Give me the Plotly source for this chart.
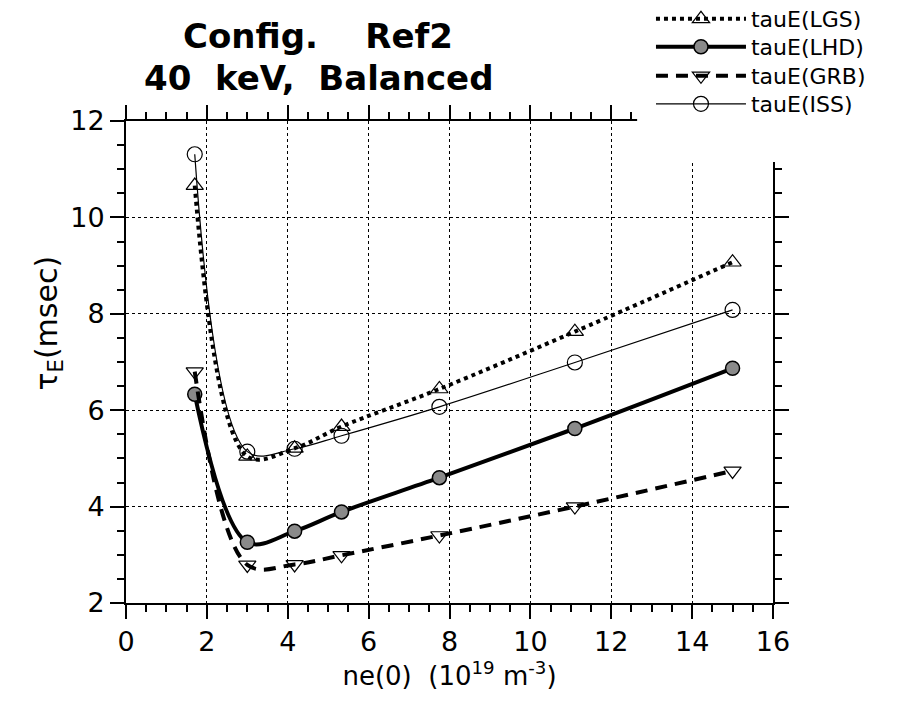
import plotly.graph_objects as go

density = [1.7, 3.0, 4.17, 5.33, 7.75, 11.1, 15.0]
tau_lgs = [10.66, 5.04, 5.21, 5.66, 6.44, 7.63, 9.07]
tau_lhd = [6.33, 3.26, 3.49, 3.89, 4.60, 5.62, 6.87]
tau_grb = [6.80, 2.79, 2.80, 2.99, 3.40, 4.00, 4.74]
tau_iss = [11.31, 5.14, 5.20, 5.47, 6.07, 6.99, 8.08]
series_names = ["tauE(LGS)", "tauE(LHD)", "tauE(GRB)", "tauE(ISS)"]

FONT = "DejaVu Sans"
NB = "\u00a0"

fig = go.Figure()
fig.add_trace(go.Scatter(
    x=density, y=tau_lgs, name=series_names[0], mode="lines+markers", legend="legend",
    line=dict(color="black", width=4, dash="dot", shape="spline", smoothing=1.0),
    marker=dict(symbol="triangle-up-open", size=15, color="black", line=dict(width=1.2)),
))
fig.add_trace(go.Scatter(
    x=density, y=tau_lhd, name=series_names[1], mode="lines+markers", legend="legend2",
    line=dict(color="black", width=4, shape="spline", smoothing=1.0),
    marker=dict(symbol="circle", size=14, color="#8a8a8a", line=dict(color="black", width=1.5)),
))
fig.add_trace(go.Scatter(
    x=density, y=tau_grb, name=series_names[2], mode="lines+markers", legend="legend3",
    line=dict(color="black", width=4, dash="12px,8px", shape="spline", smoothing=1.0),
    marker=dict(symbol="triangle-down-open", size=15, color="black", line=dict(width=1.2)),
))
fig.add_trace(go.Scatter(
    x=density, y=tau_iss, name=series_names[3], mode="lines+markers", legend="legend4",
    line=dict(color="black", width=1.2, shape="spline", smoothing=1.0),
    marker=dict(symbol="circle-open", size=15, color="black", line=dict(width=1.2)),
))

axis_common = dict(
    showline=True, linecolor="black", linewidth=2, mirror="allticks",
    ticks="outside", ticklen=14, tickwidth=1.5, tickcolor="black",
    showgrid=True, gridcolor="black", gridwidth=1, griddash="dot",
    zeroline=False, automargin=False,
    tickfont=dict(family=FONT, size=27, color="black"),
)

fig.update_xaxes(
    range=[0, 16], dtick=2, tick0=0,
    minor=dict(dtick=0.5, ticks="outside", ticklen=7, tickcolor="black", showgrid=False),
    title=dict(text=f"ne(0){NB}{NB}(10<sup>19</sup> m<sup>-3</sup>)",
               font=dict(family=FONT, size=26, color="black"), standoff=10),
    **axis_common,
)
fig.update_yaxes(
    range=[2, 12], dtick=2, tick0=2,
    minor=dict(dtick=0.5, ticks="outside", ticklen=7, tickcolor="black", showgrid=False),
    **axis_common,
)

# y-axis title (placed above the vertical centre, as in the reference)
fig.add_annotation(
    text="τ<sub>E</sub>(msec)", xref="paper", yref="paper",
    x=0.0, xshift=-78, y=0.58, textangle=-90, showarrow=False,
    xanchor="center", yanchor="middle",
    font=dict(family=FONT, size=30, color="black"),
)

fig.add_annotation(
    text=f"<b>Config.{NB*4}Ref2</b>", xref="paper", yref="paper",
    x=0.297, y=1.0, yshift=85, showarrow=False, xanchor="center", yanchor="middle",
    font=dict(family=FONT, size=34, color="black"),
)
fig.add_annotation(
    text=f"<b>40{NB*2}keV,{NB*2}Balanced</b>", xref="paper", yref="paper",
    x=0.297, y=1.0, yshift=43, showarrow=False, xanchor="center", yanchor="middle",
    font=dict(family=FONT, size=34, color="black"),
)

# white area behind the legend, hiding the top-right corner of the frame
fig.add_shape(type="rect", xref="paper", yref="paper", layer="above",
              x0=0.79, x1=1.25, y0=0.915, y1=1.3,
              fillcolor="white", line=dict(width=0))

leg_common = dict(
    xref="paper", yref="paper", x=0.8114, xanchor="left", yanchor="middle",
    font=dict(family=FONT, size=22, color="black"),
    bgcolor="rgba(0,0,0,0)", itemwidth=90, borderwidth=0,
)
row_y = [1.2116, 1.1536, 1.0934, 1.0353]

fig.update_layout(
    width=907, height=703,
    paper_bgcolor="white", plot_bgcolor="white",
    margin=dict(l=118, r=142, t=113, b=108, autoexpand=False),
    showlegend=True,
    legend=dict(y=row_y[0], **leg_common),
    legend2=dict(y=row_y[1], **leg_common),
    legend3=dict(y=row_y[2], **leg_common),
    legend4=dict(y=row_y[3], **leg_common),
)

fig.write_html("out.html")
